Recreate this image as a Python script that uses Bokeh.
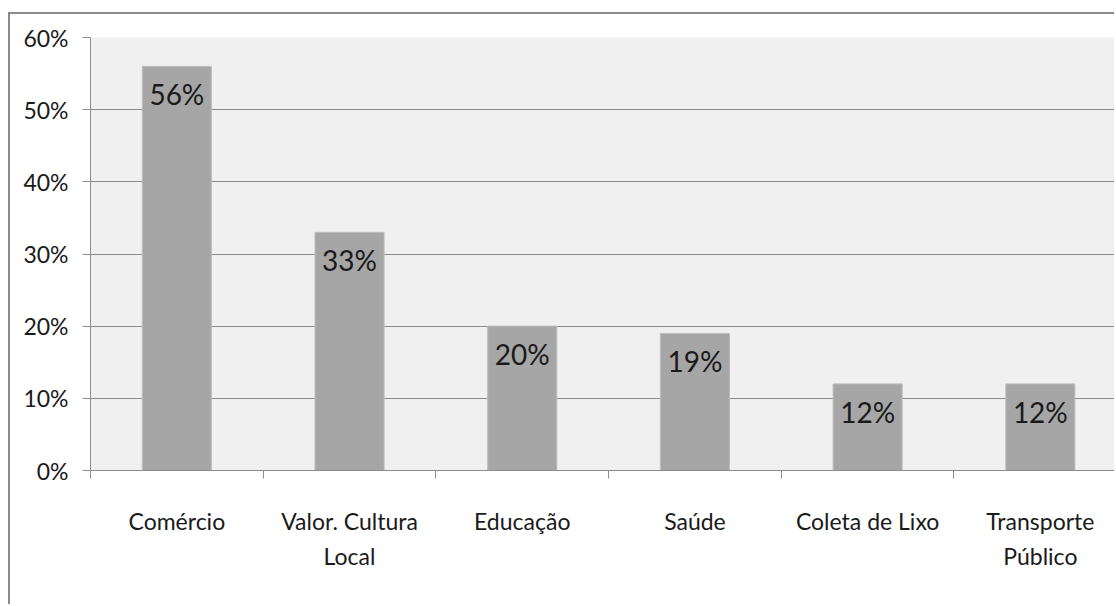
from bokeh.plotting import figure
from bokeh.models import ColumnDataSource, Range1d, FixedTicker, CustomJSTickFormatter
from bokeh.core.properties import value
from bokeh.embed import file_html
from bokeh.resources import INLINE

# Survey results: share of respondents per area (%)
categories = ["Comércio", "Valor. Cultura\nLocal", "Educação", "Saúde",
              "Coleta de Lixo", "Transporte\nPúblico"]
shares = [56, 33, 20, 19, 12, 12]
y_ticks = [0, 10, 20, 30, 40, 50, 60]

FONT = "Lato"
TEXT = "#1a1a1a"
GRID = "#8c8c8c"

positions = list(range(len(categories)))
src = ColumnDataSource(dict(
    x=positions,
    share=shares,
    label=[f"{v}%" for v in shares],
))

p = figure(
    width=1106, height=592,
    x_range=Range1d(-0.5, 5.441), y_range=Range1d(0, 60),
    output_backend="svg", toolbar_location=None, tools="",
    min_border_left=80, min_border_top=23, min_border_bottom=136,
    min_border_right=0,
)
p.margin = (12, 0, 0, 8)
p.styles = {"border-left": "2px solid #8a8a8a", "border-top": "2px solid #8a8a8a"}

p.background_fill_color = "#f0f0f0"
p.border_fill_color = "white"
p.outline_line_color = None

p.vbar(x="x", top="share", width=0.4, source=src,
       fill_color="#a6a6a6", line_color="#bdbdbd", line_width=1)

p.text(x="x", y="share", text="label", source=src,
       text_align="center", text_baseline="top", y_offset=11,
       text_font=value(FONT), text_font_size="28px", text_color=TEXT)

# y axis: percentage scale with gridlines every 10%
p.yaxis.ticker = FixedTicker(ticks=y_ticks)
p.yaxis.formatter = CustomJSTickFormatter(code="return tick + '%';")
p.yaxis.major_tick_out = 8
p.yaxis.major_tick_in = 0
p.yaxis.minor_tick_line_color = None
p.yaxis.axis_line_color = GRID
p.yaxis.major_tick_line_color = GRID
p.yaxis.major_label_text_font = FONT
p.yaxis.major_label_text_font_size = "23px"
p.yaxis.major_label_text_color = TEXT
p.yaxis.major_label_standoff = 14

p.ygrid.ticker = FixedTicker(ticks=y_ticks)
p.ygrid.grid_line_color = GRID
p.xgrid.grid_line_color = None

# x axis: labels at bar centres, tick marks on category boundaries
p.xaxis.ticker = FixedTicker(ticks=positions,
                             minor_ticks=[i - 0.5 for i in range(len(categories) + 1)])
p.xaxis.major_label_overrides = {i: c for i, c in enumerate(categories)}
p.xaxis.major_tick_line_color = None
p.xaxis.major_tick_out = 0
p.xaxis.major_tick_in = 0
p.xaxis.minor_tick_out = 8
p.xaxis.minor_tick_in = 0
p.xaxis.minor_tick_line_color = GRID
p.xaxis.axis_line_color = GRID
p.xaxis.major_label_text_font = FONT
p.xaxis.major_label_text_font_size = "23px"
p.xaxis.major_label_text_color = TEXT
p.xaxis.major_label_text_line_height = 1.25
p.xaxis.major_label_standoff = 28

open("out.html", "w").write(file_html(p, INLINE))
